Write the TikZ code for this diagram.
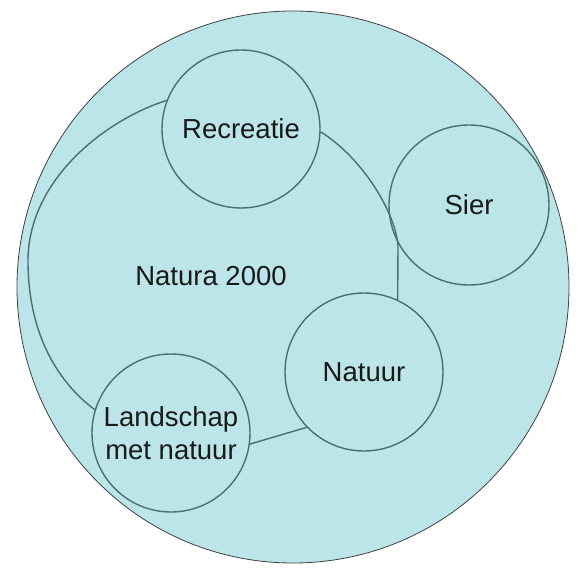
\documentclass[tikz,border=0pt]{standalone}
\usepackage{fontspec}
\setmainfont{Liberation Sans}
\begin{document}
\begin{tikzpicture}[x=1pt,y=-1pt,
  lbl/.style={font=\fontsize{27.5}{33}\selectfont, text=black!90},
  sub/.style={circle, draw=linec, line width=1.4pt, inner sep=0pt, lbl, align=center},
  bord/.style={draw=linec, line width=1.4pt}]
\definecolor{fillc}{HTML}{BCE5E9}
\definecolor{linec}{HTML}{4D6E6E}
\useasboundingbox (0,0) rectangle (581,572);
\node[circle, fill=fillc, draw=black!75, line width=0.8pt, minimum size=552pt, inner sep=0pt] (big) at (293,287) {};
\node[sub, minimum size=158pt] (rec) at (241,129) {Recreatie};
\node[sub, minimum size=160pt] (sier) at (469,205) {Sier};
\node[sub, minimum size=158pt] (nat) at (364,372) {Natuur};
\node[sub, minimum size=158pt] (land) at (171,433) {Landschap\\met natuur};
\node[lbl] (n2000) at (211,276) {Natura 2000};
\coordinate (west) at (28,261);
\coordinate (knee) at (398,246);
\draw[bord] (rec.159) .. controls (105,120) and (28,180) .. (west)
  .. controls (28,330) and (55,380) .. (land.163);
\draw[bord] (land.-8) -- (nat.224);
\draw[bord] (nat.65) -- (knee) .. controls (396,215) and (365,160) .. (rec.-2);
\end{tikzpicture}
\end{document}
